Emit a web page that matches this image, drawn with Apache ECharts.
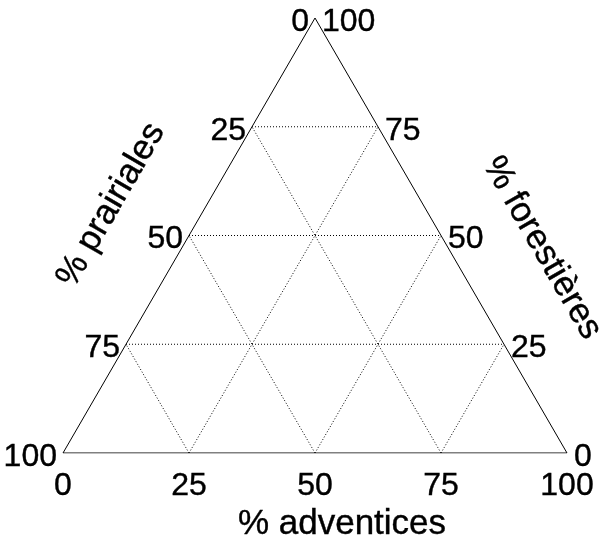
<!DOCTYPE html>
<html>
<head>
<meta charset="utf-8">
<style>html,body{margin:0;padding:0;background:#fff}#c{width:601px;height:550px}</style>
<script src="https://cdn.jsdelivr.net/npm/echarts@6/dist/echarts.min.js"></script>
</head>
<body>
<div id="c"></div>
<script>
// Tick values (percent) along each side
const ticks = [0, 25, 50, 75, 100];
const gridTicks = [25, 50, 75];
const bottomLabels = ['0', '25', '50', '75', '100'];      // % adventices, left -> right
const leftLabels = ['100', '75', '50', '25', '0'];        // % prairiales, bottom -> top
const rightLabels = ['0', '25', '50', '75', '100'];       // % forestières, bottom -> top
const titleBottom = '% adventices';
const titleLeft = '% prairiales';
const titleRight = '% forestières';

const FONT = '"Liberation Sans", Arial, sans-serif';
const TICK_SIZE = 32;
const TITLE_SIZE = 35;

const series = [];
function seg(p, q, dotted) {
  series.push({
    type: 'line', data: [p, q], symbol: 'none', silent: true, animation: false,
    z: dotted ? 2 : 3,
    lineStyle: { color: '#000', width: 1, type: dotted ? [1, 2] : 'solid' }
  });
}
// dotted grid lines
gridTicks.forEach(t => {
  seg([t / 2, t], [100 - t / 2, t], true);            // horizontal
  seg([t, 0], [(100 + t) / 2, 100 - t], true);        // parallel to left side
  seg([t, 0], [t / 2, t], true);                      // parallel to right side
});
// triangle
seg([0, 0], [100, 0], false);
seg([0, 0], [50, 100], false);
seg([50, 100], [100, 0], false);

const labelBase = { show: true, color: '#000', opacity: 1, fontFamily: FONT, fontSize: TICK_SIZE, textBorderColor: '#000', textBorderWidth: 0.4 };
const scatterBase = { type: 'scatter', symbolSize: 0, silent: true, animation: false, z: 5, itemStyle: { opacity: 1, color: '#000' } };
series.push({
  ...scatterBase,
  data: ticks.map((t, i) => ({ value: [t, 0], label: { ...labelBase, position: 'inside', offset: [0, 33], formatter: bottomLabels[i] } }))
});
series.push({
  ...scatterBase,
  data: ticks.map((h, i) => ({ value: [h / 2, h], label: { ...labelBase, position: 'left', distance: 6, offset: [0, 4], formatter: leftLabels[i] } }))
});
series.push({
  ...scatterBase,
  data: ticks.map((h, i) => ({ value: [100 - h / 2, h], label: { ...labelBase, position: 'right', distance: 7, offset: [0, 4], formatter: rightLabels[i] } }))
});

const titleStyle = { font: TITLE_SIZE + 'px ' + FONT, fill: '#000', stroke: '#000', lineWidth: 0.4, textAlign: 'center', textVerticalAlign: 'middle' };
const chart = echarts.init(document.getElementById('c'), null, { renderer: 'canvas' });
chart.setOption({
  backgroundColor: '#fff',
  animation: false,
  grid: { left: 63, right: 34, top: 18, bottom: 97 },
  xAxis: { type: 'value', min: 0, max: 100, show: false },
  yAxis: { type: 'value', min: 0, max: 100, show: false },
  series: series,
  graphic: [
    { type: 'text', x: 342, y: 524, style: { ...titleStyle, text: titleBottom } },
    { type: 'text', x: 111, y: 205, rotation: Math.PI / 3, style: { ...titleStyle, text: titleLeft } },
    { type: 'text', x: 542, y: 248, rotation: -Math.PI / 3, style: { ...titleStyle, text: titleRight } }
  ]
});
</script>
</body>
</html>
